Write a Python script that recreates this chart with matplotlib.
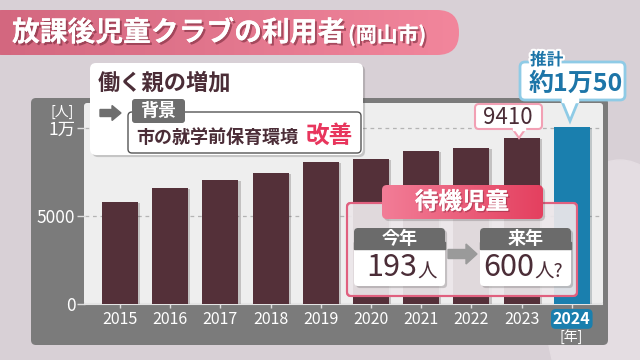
import matplotlib
matplotlib.use('Agg')
import matplotlib.pyplot as plt
import matplotlib.patches as mpatches
import matplotlib.patheffects as pe
import numpy as np

plt.rcParams['font.family'] = ['Noto Sans CJK JP', 'DejaVu Sans']

# data
years = ['2015', '2016', '2017', '2018', '2019', '2020', '2021', '2022', '2023', '2024']
users = [5800, 6590, 7050, 7440, 8070, 8240, 8690, 8860, 9410, 10050]
ytick_vals = [0, 5000, 10000]
ytick_labels = ['0', '5000', '1万']
waiting_now = 193
waiting_next = 600

DARK = '#4b2d37'
BAR = '#543039'
BLUE = '#1a7fae'
PINK = '#e9577a'
GRAY_PANEL = '#7b7b7b'

W, H = 640, 360


def box(ax, x0, y0, x1, y1, face, edge='none', lw=0, r=4, alpha=1, z=2, shadow=False):
    p = mpatches.FancyBboxPatch((x0, y0), x1 - x0, y1 - y0,
                                boxstyle='round,pad=0,rounding_size=%g' % r,
                                facecolor=face, edgecolor=edge, linewidth=lw,
                                alpha=alpha, zorder=z)
    if shadow:
        p.set_path_effects([pe.SimplePatchShadow(offset=(1.5, -1.5), alpha=0.25), pe.Normal()])
    ax.add_patch(p)
    return p


def gradient_fill(ax, patch, c0, c1, extent, z):
    grad = np.linspace(0, 1, 256).reshape(1, -1)
    cmap = matplotlib.colors.LinearSegmentedColormap.from_list('g', [c0, c1])
    im = ax.imshow(grad, cmap=cmap, extent=extent, aspect='auto', zorder=z)
    im.set_clip_path(patch)


fig = plt.figure(figsize=(6.4, 3.6), dpi=100)
fig.patch.set_facecolor('#d8d0d6')

# background layer (pixel coords)
bg = fig.add_axes([0, 0, 1, 1], zorder=0)
bg.set_xlim(0, W)
bg.set_ylim(H, 0)
bg.axis('off')
bg.add_patch(mpatches.Ellipse((620, 300), 150, 280, color='#e4dde2', zorder=0))
box(bg, 31, 98, 608, 345, GRAY_PANEL, r=5, z=1)
box(bg, 84, 103, 603, 305, '#eeeeee', r=3, z=2)

# chart axes
ax = fig.add_axes([85 / W, (H - 304) / H, (602 - 85) / W, (304 - 103) / H], zorder=1)
ax.set_facecolor('none')
x = np.arange(len(years))
colors = [BAR] * (len(years) - 1) + [BLUE]
bars = ax.bar(x, users, width=0.72, color=colors, zorder=3)
for b in bars:
    b.set_path_effects([pe.SimplePatchShadow(offset=(1.5, -0.5), alpha=0.2), pe.Normal()])

ax.set_xlim(-0.697, 9.602)
ax.set_ylim(0, 10000 * (304 - 103) / 176)
for v in ytick_vals[1:]:
    ax.axhline(v, color='#b4b4b4', lw=0.9, ls=(0, (3, 3)), zorder=1)

ax.set_yticks(ytick_vals)
ax.set_yticklabels(ytick_labels)
ax.set_xticks(x)
ax.set_xticklabels(years)
ax.tick_params(axis='y', length=6, width=1, color='#dddddd', labelcolor='white', labelsize=12.5, pad=1)
ax.tick_params(axis='x', length=3, width=1, color='#dddddd', labelcolor='white', labelsize=11.5, pad=2)
for s in ['top', 'right', 'left']:
    ax.spines[s].set_visible(False)
ax.spines['bottom'].set_color('#e4e4e4')
ax.spines['bottom'].set_linewidth(1.5)
last = ax.get_xticklabels()[-1]
last.set_fontweight('bold')
last.set_bbox(dict(boxstyle='round,pad=0.12,rounding_size=0.3', facecolor=BLUE, edgecolor='none'))

# overlay layer (pixel coords)
ov = fig.add_axes([0, 0, 1, 1], zorder=2)
ov.set_xlim(0, W)
ov.set_ylim(H, 0)
ov.axis('off')
ov.patch.set_alpha(0)

ov.text(62, 112, '[人]', color='white', fontsize=10, ha='center', va='center')
ov.text(571, 337, '[年]', color='white', fontsize=10, ha='center', va='center')

# title banner
ban = box(ov, -20, 10, 459, 55, 'none', r=22, z=3)
gradient_fill(ov, ban, '#d2667e', '#f2869c', (-20, 459, 55, 10), 3)
tshadow = [pe.withSimplePatchShadow(offset=(1.5, -1.5), shadow_rgbFace='#7a2a3c', alpha=0.6), pe.Normal()]
ov.text(12, 33, '放課後児童クラブの利用者', color='white', fontsize=20, fontweight='bold',
        va='center', zorder=5, path_effects=tshadow)
ov.text(348, 35, '(岡山市)', color='white', fontsize=15, fontweight='bold',
        va='center', zorder=5, path_effects=tshadow)

# background reason box
box(ov, 90, 63, 363, 155, 'white', r=6, z=4, shadow=True)
ov.text(98, 83, '働く親の増加', color=DARK, fontsize=16, fontweight='bold', va='center', zorder=5)
ov.add_patch(mpatches.FancyArrow(100, 113, 12, 0, width=7, head_width=15, head_length=9,
                                 color='#6e6e6e', zorder=5))
box(ov, 128, 112, 361, 153, 'none', edge='#555555', lw=1, r=4, z=5)
box(ov, 132, 99, 185, 123, '#6e6e6e', r=3, z=6)
ov.text(158, 111, '背景', color='white', fontsize=13, fontweight='bold', ha='center', va='center', zorder=7)
ov.text(136, 137, '市の就学前保育環境', color=DARK, fontsize=13, fontweight='bold', va='center', zorder=7)
ov.text(306, 136, '改善', color='#e8365d', fontsize=17, fontweight='bold', va='center', zorder=7)

# estimate callout over 2024
ov.add_patch(mpatches.Polygon([[561, 99], [579, 99], [570, 121]], closed=True,
                              facecolor='white', edgecolor='#8fcbe6', lw=2, zorder=4))
box(ov, 520, 62, 625, 100, 'white', edge='#8fcbe6', lw=2, r=5, z=4)
ov.add_patch(mpatches.Rectangle((562, 97), 16, 5, color='white', zorder=5))
ov.text(530, 60, '推計', color='#1d75a8', fontsize=12, fontweight='bold', va='center', zorder=6,
        path_effects=[pe.withStroke(linewidth=3, foreground='white')])
ov.text(529, 84, '約1万50', color='#1d75a8', fontsize=18, fontweight='bold', va='center', zorder=6)

# 2023 value label
ov.add_patch(mpatches.Polygon([[512, 128], [526, 128], [519, 138]], closed=True,
                              facecolor='white', edgecolor='#f2a0b4', lw=1.5, zorder=4))
box(ov, 475, 104, 542, 129, 'white', edge='#f2a0b4', lw=1.5, r=4, z=4)
ov.add_patch(mpatches.Rectangle((513, 126), 12, 4, color='white', zorder=5))
ov.text(508, 117, str(users[8]), color=DARK, fontsize=16, ha='center', va='center', zorder=6)

# waiting children box
box(ov, 347, 203, 577, 296, '#ece7ea', edge='#e0607f', lw=1.5, r=4, alpha=0.93, z=4)
box(ov, 347, 203, 577, 296, 'none', edge='#e0607f', lw=1.5, r=4, z=4)
hdr = box(ov, 382, 185, 543, 219, 'none', r=5, z=5, shadow=True)
gradient_fill(ov, hdr, '#f27d97', '#e4405f', (382, 543, 219, 185), 5)
ov.text(462, 202, '待機児童', color='white', fontsize=17, fontweight='bold', ha='center', va='center',
        zorder=6, path_effects=[pe.withSimplePatchShadow(offset=(1, -1), shadow_rgbFace='#8a2a40', alpha=0.5), pe.Normal()])

for x0, head in [(354, '今年'), (480, '来年')]:
    box(ov, x0, 228, x0 + 91, 286, 'white', r=4, z=5, shadow=True)
    box(ov, x0, 228, x0 + 91, 249, '#6b6b6b', r=4, z=6)
    ov.add_patch(mpatches.Rectangle((x0, 242), 91, 7, color='#6b6b6b', zorder=6))
    ov.text(x0 + 45.5, 238, head, color='white', fontsize=13, fontweight='bold',
            ha='center', va='center', zorder=7)

ov.text(366, 268, str(waiting_now), color=DARK, fontsize=22, va='center', zorder=7)
ov.text(417, 272, '人', color=DARK, fontsize=14, va='center', zorder=7)
ov.text(483, 268, str(waiting_next), color=DARK, fontsize=22, va='center', zorder=7)
ov.text(534, 272, '人?', color=DARK, fontsize=14, va='center', zorder=7)
ov.add_patch(mpatches.FancyArrow(448, 254, 18, 0, width=9, head_width=20, head_length=11,
                                 color='#9a9a9a', zorder=6))

fig.savefig('out.png', dpi=100, facecolor=fig.get_facecolor())
